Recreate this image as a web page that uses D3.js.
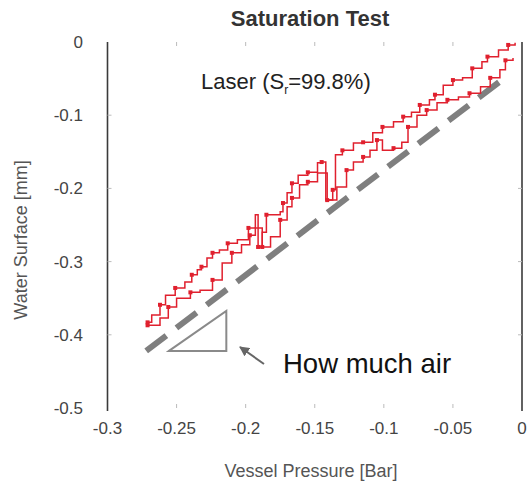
<!DOCTYPE html>
<html>
<head>
<meta charset="utf-8">
<script src="https://cdn.jsdelivr.net/npm/d3@7"></script>
<style>
  html, body { margin: 0; padding: 0; background: #fff; }
  svg { display: block; }
  text { font-family: "Liberation Sans", Arial, sans-serif; }
</style>
</head>
<body>
<svg id="chart" width="532" height="490"></svg>
<script>
// ---------- data ----------
const xTicks = [-0.3, -0.25, -0.2, -0.15, -0.1, -0.05, 0];
const yTicks = [0, -0.1, -0.2, -0.3, -0.4, -0.5];
const xTickLabels = ["-0.3", "-0.25", "-0.2", "-0.15", "-0.1", "-0.05", "0"];
const yTickLabels = ["0", "-0.1", "-0.2", "-0.3", "-0.4", "-0.5"];

// upper branch (pressure [bar], water surface [mm])
const upperX = [-0.271,-0.268,-0.262,-0.258,-0.251,-0.244,-0.239,-0.235,-0.232,-0.228,-0.224,-0.219,-0.213,-0.206,-0.198,-0.193,-0.191,-0.188,-0.185,-0.175,-0.173,-0.170,-0.1665,-0.162,-0.155,-0.148,-0.145,-0.142,-0.137,-0.135,-0.130,-0.122,-0.115,-0.108,-0.101,-0.093,-0.086,-0.080,-0.074,-0.067,-0.063,-0.057,-0.050,-0.043,-0.036,-0.029,-0.025,-0.017,-0.010,-0.005];
const upperY = [-0.383,-0.373,-0.359,-0.346,-0.336,-0.328,-0.318,-0.311,-0.307,-0.295,-0.288,-0.284,-0.275,-0.270,-0.254,-0.236,-0.280,-0.260,-0.236,-0.232,-0.220,-0.206,-0.193,-0.182,-0.178,-0.165,-0.164,-0.216,-0.202,-0.154,-0.148,-0.138,-0.137,-0.124,-0.116,-0.109,-0.102,-0.096,-0.086,-0.079,-0.072,-0.059,-0.052,-0.049,-0.036,-0.027,-0.020,-0.011,-0.004,-0.001];

// lower branch
const lowerX = [-0.271,-0.262,-0.256,-0.250,-0.240,-0.233,-0.224,-0.217,-0.210,-0.203,-0.197,-0.193,-0.188,-0.182,-0.175,-0.170,-0.1665,-0.161,-0.155,-0.148,-0.141,-0.134,-0.127,-0.122,-0.115,-0.110,-0.105,-0.101,-0.093,-0.087,-0.0825,-0.076,-0.069,-0.0615,-0.054,-0.046,-0.038,-0.030,-0.023,-0.016,-0.012,-0.0065];
const lowerY = [-0.387,-0.377,-0.362,-0.350,-0.342,-0.339,-0.325,-0.302,-0.288,-0.277,-0.264,-0.254,-0.280,-0.266,-0.243,-0.225,-0.213,-0.195,-0.191,-0.179,-0.216,-0.198,-0.175,-0.164,-0.157,-0.148,-0.134,-0.148,-0.145,-0.137,-0.116,-0.100,-0.093,-0.083,-0.079,-0.075,-0.070,-0.061,-0.049,-0.038,-0.025,-0.022];

// dashed reference line (pressure, surface)
const refLineX = [-0.272, -0.0167];
const refLineY = [-0.422, -0.055];

// slope triangle
const triX = [-0.2555, -0.214, -0.214];
const triY = [-0.422, -0.3675, -0.422];

// ---------- layout ----------
const svg = d3.select("#chart");
const x = d3.scaleLinear().domain([-0.3, 0]).range([107.5, 522]);
const y = d3.scaleLinear().domain([-0.5, 0]).range([408, 42]);

const axisColor = "#3a3a3a";
const labelColor = "#444";
const red = "#e0202e";

// title
svg.append("text").attr("x", 310).attr("y", 26).attr("text-anchor", "middle")
  .attr("font-size", 22).attr("font-weight", "bold").attr("fill", "#333")
  .text("Saturation Test");

// axis frame lines (left & right)
svg.append("line").attr("x1", x(-0.3)).attr("x2", x(-0.3)).attr("y1", y(0)).attr("y2", 411)
  .attr("stroke", axisColor).attr("stroke-width", 1.6);
svg.append("line").attr("x1", x(0)).attr("x2", x(0)).attr("y1", y(0)).attr("y2", 411)
  .attr("stroke", axisColor).attr("stroke-width", 1.6);

// faint small ticks
const tickG = svg.append("g").attr("stroke", "#bbb").attr("stroke-width", 1);
xTicks.slice(1, -1).forEach(t => {
  tickG.append("line").attr("x1", x(t)).attr("x2", x(t)).attr("y1", y(0)).attr("y2", y(0) + 4);
  tickG.append("line").attr("x1", x(t)).attr("x2", x(t)).attr("y1", y(-0.5) - 4).attr("y2", y(-0.5));
});
yTicks.slice(1, -1).forEach(t => {
  tickG.append("line").attr("x1", x(-0.3)).attr("x2", x(-0.3) + 4).attr("y1", y(t)).attr("y2", y(t));
  tickG.append("line").attr("x1", x(0) - 4).attr("x2", x(0)).attr("y1", y(t)).attr("y2", y(t));
});

// x tick labels
svg.append("g").selectAll("text").data(xTicks).join("text")
  .attr("x", d => x(d)).attr("y", 434).attr("text-anchor", "middle")
  .attr("font-size", 17).attr("fill", labelColor)
  .text((d, i) => xTickLabels[i]);

// y tick labels
svg.append("g").selectAll("text").data(yTicks).join("text")
  .attr("x", 83).attr("y", d => y(d) + 6).attr("text-anchor", "end")
  .attr("font-size", 17).attr("fill", labelColor)
  .text((d, i) => yTickLabels[i]);

// axis titles
svg.append("text").attr("x", 311).attr("y", 477).attr("text-anchor", "middle")
  .attr("font-size", 18).attr("fill", "#555").text("Vessel Pressure [Bar]");
svg.append("text").attr("transform", "translate(27,240) rotate(-90)").attr("text-anchor", "middle")
  .attr("font-size", 18).attr("fill", "#555").text("Water Surface [mm]");

// dashed reference line: dash pattern fitted so the line starts and ends on a full dash
const rx1 = x(refLineX[0]), ry1 = y(refLineY[0]), rx2 = x(refLineX[1]), ry2 = y(refLineY[1]);
const refLen = Math.hypot(rx2 - rx1, ry2 - ry1);
const nDash = 12;
const dashLen = refLen / (nDash + (nDash - 1) * 0.5);
svg.append("line")
  .attr("x1", rx1).attr("y1", ry1).attr("x2", rx2).attr("y2", ry2)
  .attr("stroke", "#7f7f7f").attr("stroke-width", 6)
  .attr("stroke-dasharray", dashLen + "," + (dashLen * 0.5));

// data series
const lineGen = d3.line().x(d => x(d[0])).y(d => y(d[1])).curve(d3.curveStepAfter);
const series = [
  d3.zip(upperX, upperY),
  d3.zip(lowerX, lowerY)
];
series.forEach(s => {
  svg.append("path").datum(s).attr("d", lineGen)
    .attr("fill", "none").attr("stroke", red).attr("stroke-width", 1.5);
  svg.append("g").selectAll("rect").data(s.filter((d, i) => i % 2 === 0)).join("rect")
    .attr("x", d => x(d[0]) - 2).attr("y", d => y(d[1]) - 2)
    .attr("width", 4).attr("height", 4).attr("fill", red);
});

// annotation: Laser (S_r=99.8%)
const lab = svg.append("text").attr("x", 201).attr("y", 89).attr("font-size", 22).attr("fill", "#222");
lab.append("tspan").text("Laser (S");
lab.append("tspan").attr("font-size", 12).attr("dy", 5).text("r");
lab.append("tspan").attr("dy", -5).text("=99.8%)");

// slope triangle
svg.append("path")
  .datum(d3.zip(triX, triY))
  .attr("d", d3.line().x(d => x(d[0])).y(d => y(d[1])).curve(d3.curveLinearClosed))
  .attr("fill", "none").attr("stroke", "#8a8a8a").attr("stroke-width", 2);

// arrow
const defs = svg.append("defs");
defs.append("marker").attr("id", "ah").attr("viewBox", "0 0 10 10")
  .attr("refX", 9).attr("refY", 5).attr("markerWidth", 5).attr("markerHeight", 5)
  .attr("orient", "auto")
  .append("path").attr("d", "M0,0 L10,5 L0,10 Z").attr("fill", "#666");
svg.append("line").attr("x1", 264).attr("y1", 364).attr("x2", 240).attr("y2", 347)
  .attr("stroke", "#666").attr("stroke-width", 2).attr("marker-end", "url(#ah)");

svg.append("text").attr("x", 283).attr("y", 373).attr("font-size", 27.5).attr("fill", "#111")
  .text("How much air");
</script>
</body>
</html>
